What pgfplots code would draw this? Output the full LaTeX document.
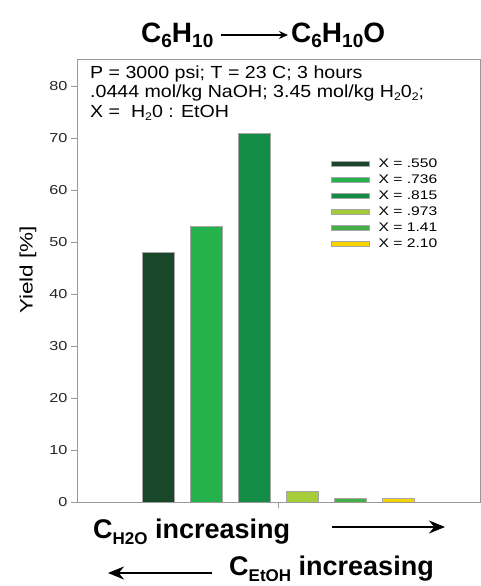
\documentclass[border=0pt]{standalone}
\usepackage{pgfplots}
\pgfplotsset{compat=1.18}
\usepackage{fontspec}
\setmainfont{Liberation Sans}
\newfontfamily\widefont{Liberation Sans}[FakeStretch=1.25]
\newfontfamily\boxfont{Liberation Sans}[FakeStretch=1.12]
\usetikzlibrary{arrows.meta}
\definecolor{c1}{HTML}{18472A}
\definecolor{c2}{HTML}{25B24C}
\definecolor{c3}{HTML}{138C45}
\definecolor{c4}{HTML}{A5CD39}
\definecolor{c5}{HTML}{45B04A}
\definecolor{c6}{HTML}{F7D300}
\newcommand{\tsub}[1]{\raisebox{-5bp}{\fontsize{19bp}{19bp}\selectfont #1}}
\newcommand{\bsub}[1]{\raisebox{-6bp}{\fontsize{17bp}{17bp}\selectfont #1}}
\newcommand{\ssub}[1]{\raisebox{-3bp}{\fontsize{11bp}{11bp}\selectfont #1}}
\begin{document}
\begin{tikzpicture}[x=1bp,y=1bp]
\path[use as bounding box] (0,0) rectangle (481,586);
\begin{axis}[
  at={(77bp,84bp)}, anchor=south west,
  width=403bp, height=443bp, scale only axis,
  xmin=-1, xmax=1, ymin=0, ymax=85.2,
  ybar=16bp, bar width=32bp,
  xtick={0}, xticklabels={},
  ytick={0,10,...,80},
  tick align=outside, major tick length=6bp,
  xtick pos=bottom, ytick pos=left,
  axis line style={gray!80},
  tick style={gray!80, line width=0.6bp},
  /pgf/number format/assume math mode=true,
  tick label style={font=\widefont\fontsize{13bp}{13bp}\selectfont, text=black!85},
  ylabel={Yield [\%]},
  every axis y label/.style={at={(axis description cs:-0.1216,0.524)}, rotate=90, anchor=center, font=\widefont\fontsize{18bp}{18bp}\selectfont},
  every axis plot post/.append style={draw=gray!70, line width=0.5bp},
  legend image code/.code={\draw[#1, line width=0.5bp] (0bp,-2.5bp) rectangle (38bp,2.5bp);},
  legend style={at={(0.630,0.778)}, anchor=north west, draw=none, fill=none, inner sep=0pt,
    font=\widefont\fontsize{12.5bp}{12.5bp}\selectfont,
    nodes={inner sep=0pt, text height=10bp, text depth=3bp},
    row sep=3bp,
    /tikz/every odd column/.append style={column sep=9bp}},
  legend cell align=left,
]
\addplot[fill=c1] coordinates {(0,48)};
\addplot[fill=c2] coordinates {(0,53)};
\addplot[fill=c3] coordinates {(0,71)};
\addplot[fill=c4] coordinates {(0,2)};
\addplot[fill=c5] coordinates {(0,0.8)};
\addplot[fill=c6] coordinates {(0,0.8)};
\legend{X = .550, X = .736, X = .815, X = .973, X = 1.41, X = 2.10}
\end{axis}
% title
\node[anchor=base west, inner sep=0pt, font=\bfseries\fontsize{28bp}{28bp}\selectfont] at (141,543) {C\tsub{6}H\tsub{10}};
\draw[line width=1.3bp, -{Stealth[length=9bp,width=8bp]}] (221,551) -- (288,551);
\node[anchor=base west, inner sep=0pt, font=\bfseries\fontsize{28bp}{28bp}\selectfont] at (291,543) {C\tsub{6}H\tsub{10}O};
% condition text
\begin{scope}[every node/.style={anchor=base west, inner sep=0pt, font=\boxfont\fontsize{17.5bp}{17.5bp}\selectfont}]
\node at (90,507) {P = 3000 psi; T = 23 C; 3 hours};
\node at (90,488) {.0444 mol/kg NaOH; 3.45 mol/kg H\ssub{2}0\ssub{2};};
\node at (90,468) {X = \ H\ssub{2}0 : EtOH};
\end{scope}
% bottom annotations
\node[anchor=base west, inner sep=0pt, font=\bfseries\fontsize{27bp}{27bp}\selectfont] at (93,47) {C\bsub{H2O} increasing};
\draw[line width=2bp, -{Stealth[length=16bp,width=13bp]}] (332,59) -- (445,59);
\draw[line width=2bp, -{Stealth[length=16bp,width=13bp]}] (212,13) -- (108,13);
\node[anchor=base west, inner sep=0pt, font=\bfseries\fontsize{27bp}{27bp}\selectfont] at (229,10) {C\bsub{EtOH} increasing};
\end{tikzpicture}
\end{document}
